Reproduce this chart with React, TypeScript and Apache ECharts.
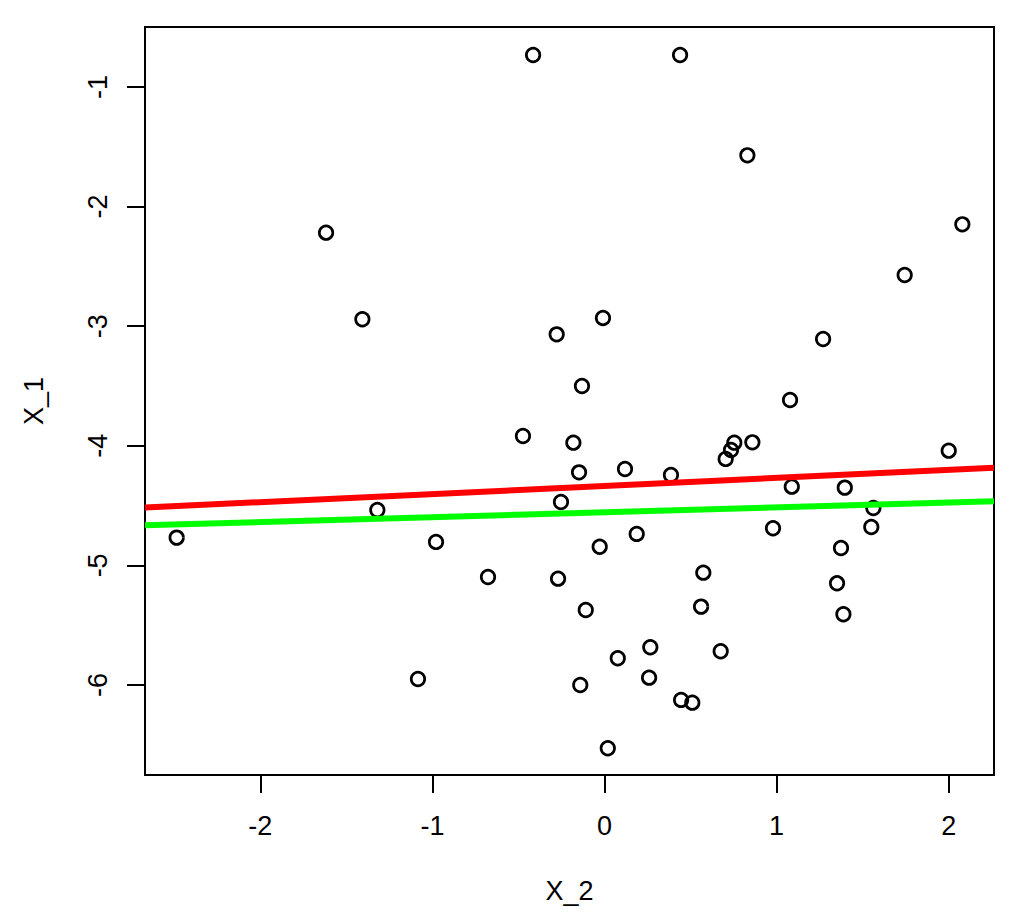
import React, { useEffect, useRef } from "react";
import * as echarts from "echarts";

// Scatter points: X_2 (horizontal) and X_1 (vertical)
const x2Values = [
  -0.415, 0.439, 0.830, 2.079, -1.618, 1.744, -1.407, -0.009, -0.278, 1.270,
  -0.131, 1.078, -0.474, -0.181, 0.754, 0.859, 0.735, 0.704, 2.000, 0.119,
  -0.148, 0.386, 1.088, 1.396, -1.320, -0.253, 1.562, -2.486, -0.979, 0.187,
  0.979, 1.550, -0.028, 1.374, -0.677, -0.270, 0.574, 1.351, -0.109, 0.561,
  1.388, 0.266, 0.675, 0.077, -1.084, -0.141, 0.259, 0.445, 0.510, 0.019,
];
const x1Values = [
  -0.732, -0.732, -1.571, -2.148, -2.218, -2.572, -2.942, -2.931, -3.068, -3.107,
  -3.500, -3.617, -3.918, -3.974, -3.974, -3.971, -4.035, -4.110, -4.041, -4.194,
  -4.222, -4.244, -4.342, -4.350, -4.537, -4.470, -4.520, -4.768, -4.804, -4.737,
  -4.690, -4.679, -4.844, -4.855, -5.097, -5.111, -5.061, -5.150, -5.373, -5.345,
  -5.409, -5.685, -5.718, -5.777, -5.950, -6.000, -5.939, -6.125, -6.148, -6.529,
];

// Fitted lines (intercept, slope)
const redLine = { intercept: -4.336, slope: 0.0675 };
const greenLine = { intercept: -4.556, slope: 0.041 };

// Axis ranges and tick labels
const xRange = [-2.670, 2.263];
const yRange = [-6.753, -0.498];
const xTicks = [-2, -1, 0, 1, 2];
const yTicks = [-6, -5, -4, -3, -2, -1];

const FONT = "'Liberation Sans', Arial, Helvetica, sans-serif";
const FS = 27;
const TICK_LEN = 18;

export default function App() {
  const ref = useRef<HTMLDivElement>(null);

  useEffect(() => {
    if (!ref.current) return;
    const chart = echarts.init(ref.current, undefined, { renderer: "svg" });
    const points = x2Values.map((x, i) => [x, x1Values[i]]);
    const lineData = (l: { intercept: number; slope: number }) =>
      xRange.map((x) => [x, l.intercept + l.slope * x]);

    chart.setOption({
      animation: false,
      grid: {
        left: 145,
        right: 30,
        top: 27,
        bottom: 148,
        show: true,
        borderColor: "#000",
        borderWidth: 2,
      },
      xAxis: [
        {
          type: "value",
          position: "bottom",
          min: xRange[0],
          max: xRange[1],
          name: "X_2",
          nameLocation: "middle",
          nameGap: 102,
          nameTextStyle: { color: "#000", fontSize: FS, fontFamily: FONT },
          axisLine: { show: true, onZero: false, lineStyle: { color: "#000", width: 2 } },
          splitLine: { show: false },
          axisTick: {
            show: true,
            length: TICK_LEN,
            customValues: xTicks,
            lineStyle: { color: "#000", width: 2 },
          },
          axisLabel: {
            customValues: xTicks,
            margin: 37,
            color: "#000",
            fontSize: FS,
            fontFamily: FONT,
          },
        },
      ],
      yAxis: [
        {
          // labels and title
          type: "value",
          position: "left",
          min: yRange[0],
          max: yRange[1],
          name: "X_1",
          nameLocation: "middle",
          nameRotate: 90,
          nameGap: 98,
          nameTextStyle: { color: "#000", fontSize: FS, fontFamily: FONT },
          axisLine: { show: true, onZero: false, lineStyle: { color: "#000", width: 2 } },
          splitLine: { show: false },
          axisTick: { show: false },
          axisLabel: {
            customValues: yTicks,
            rotate: 90,
            margin: 34,
            color: "#000",
            fontSize: FS,
            fontFamily: FONT,
          },
        },
        {
          // tick marks only
          type: "value",
          position: "left",
          min: yRange[0],
          max: yRange[1],
          axisLine: { show: true, onZero: false, lineStyle: { color: "#000", width: 2 } },
          splitLine: { show: false },
          axisTick: {
            show: true,
            length: TICK_LEN,
            customValues: yTicks,
            lineStyle: { color: "#000", width: 2 },
          },
          axisLabel: { show: false, customValues: yTicks },
        },
      ],
      series: [
        {
          type: "scatter",
          data: points,
          symbol: "circle",
          symbolSize: 13.5,
          itemStyle: {
            color: "rgba(0,0,0,0)",
            borderColor: "#000",
            borderWidth: 2.7,
            opacity: 1,
          },
          z: 2,
        },
        {
          type: "line",
          data: lineData(redLine),
          symbol: "none",
          lineStyle: { color: "#ff0000", width: 6 },
          z: 3,
        },
        {
          type: "line",
          data: lineData(greenLine),
          symbol: "none",
          lineStyle: { color: "#00ff00", width: 6 },
          z: 3,
        },
      ],
    });
    return () => chart.dispose();
  }, []);

  return (
    <div
      ref={ref}
      style={{ position: "fixed", left: 0, top: 0, width: 1024, height: 923, background: "#fff" }}
    />
  );
}
